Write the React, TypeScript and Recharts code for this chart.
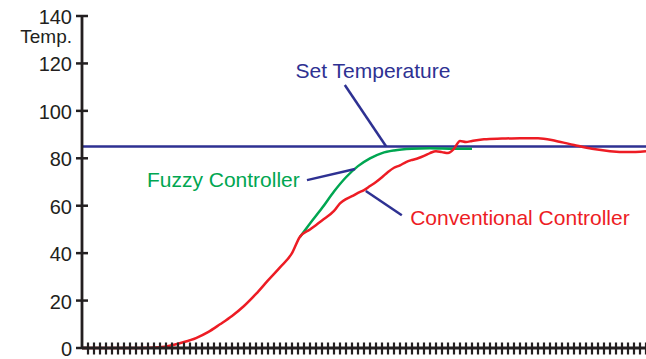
import { LineChart, Line, XAxis, YAxis, ReferenceLine, ReferenceDot } from "recharts"

const FONT = "'Liberation Sans', Arial, Helvetica, sans-serif"
const NAVY = "#2e3192"
const GREEN = "#00a651"
const RED = "#ed1c24"
const AXIS = "#231f20"

// time (arbitrary units, one minor tick each) and temperature
const convTime = [0, 5, 10, 13, 15, 17, 19, 21, 23, 25, 27, 29, 31, 33, 35, 36.3, 38, 40, 42, 43, 44, 45, 46, 47, 48, 49, 50, 51, 52, 53, 54, 55, 56, 57, 58, 59, 60, 61, 62, 63, 64, 65, 67, 70, 73, 76, 79, 82, 85, 88, 91, 94]
const convTemp = [0, 0, 0, 0.3, 1.2, 2.5, 4.2, 6.7, 10, 13.5, 17.7, 22.8, 28.5, 34, 40, 46.8, 50, 53.8, 57.8, 61, 62.8, 64, 65.4, 66.6, 68.3, 70, 72, 74.2, 76, 77, 78.4, 79.3, 80, 81, 82.2, 83, 82.6, 82.2, 84, 87.3, 86.9, 87.3, 88, 88.3, 88.5, 88.5, 87.3, 85.6, 84, 83, 82.6, 83]

const fuzzyTime = [36.3, 38, 40, 42, 44, 46, 48, 50, 52, 55, 58, 62, 65]
const fuzzyTemp = [46.8, 52.5, 59, 66, 72, 76.7, 80, 82.2, 83.3, 84, 84.2, 84, 84]

const setTime = [0, 94]
const setTemp = [85, 85]

const yTicks = [0, 20, 40, 60, 80, 100, 120, 140]
const xTicks = Array.from({ length: 94 }, (_, i) => i + 1)

// annotation labels and their pointer lines
const notes = [
  { text: "Set Temperature", color: NAVY, x: 48.5, y: 113.9, anchor: "middle", from: [43.8, 110.9], to: [50.7, 85] },
  { text: "Fuzzy Controller", color: GREEN, x: 36.3, y: 67.9, anchor: "end", from: [37.5, 70.8], to: [45.5, 75.5] },
  { text: "Conventional Controller", color: RED, x: 54.7, y: 51.9, anchor: "start", from: [47.3, 66.2], to: [53.3, 56] },
]

const toRows = (xs: number[], ys: number[]) => xs.map((t, i) => ({ t, v: ys[i] }))

function YTick(props: any) {
  const { x, y, payload } = props
  return (
    <g>
      <line x1={x - 6} x2={x + 6} y1={y} y2={y} stroke={AXIS} strokeWidth={2.5} />
      <text x={x - 10} y={y + 8} textAnchor="end" fontSize={20} fill={AXIS} fontFamily={FONT}>
        {payload.value}
      </text>
      {payload.value === 140 && (
        <text x={x - 10} y={y + 27} textAnchor="end" fontSize={19} fill={AXIS} fontFamily={FONT}>
          Temp.
        </text>
      )}
    </g>
  )
}

function XTick(props: any) {
  const { x, y } = props
  return <line x1={x} x2={x} y1={y - 5.5} y2={y + 6.5} stroke={AXIS} strokeWidth={2.2} />
}

export default function App() {
  return (
    <div style={{ position: "absolute", left: 0, top: 0, width: 646, height: 359, background: "#fff" }}>
      <LineChart width={646} height={359} margin={{ top: 16, right: 0, bottom: 0, left: 0 }}>
        <XAxis
          dataKey="t"
          type="number"
          domain={[0, 94]}
          ticks={xTicks}
          interval={0}
          tick={<XTick />}
          tickLine={false}
          tickSize={0}
          tickMargin={0}
          height={11}
          axisLine={{ stroke: AXIS, strokeWidth: 2.8 }}
          allowDataOverflow
        />
        <YAxis
          type="number"
          domain={[0, 140]}
          ticks={yTicks}
          interval={0}
          tick={<YTick />}
          tickLine={false}
          tickSize={0}
          tickMargin={0}
          width={82}
          axisLine={{ stroke: AXIS, strokeWidth: 2.8 }}
        />
        <Line data={toRows(setTime, setTemp)} dataKey="v" type="linear" stroke={NAVY} strokeWidth={2.5} dot={false} isAnimationActive={false} />
        <Line data={toRows(fuzzyTime, fuzzyTemp)} dataKey="v" type="monotone" stroke={GREEN} strokeWidth={2.5} dot={false} isAnimationActive={false} />
        <Line data={toRows(convTime, convTemp)} dataKey="v" type="monotone" stroke={RED} strokeWidth={2.5} dot={false} isAnimationActive={false} />
        {notes.map((n) => (
          <ReferenceLine
            key={n.text + "-ptr"}
            segment={[{ x: n.from[0], y: n.from[1] }, { x: n.to[0], y: n.to[1] }]}
            stroke={NAVY}
            strokeWidth={2.5}
          />
        ))}
        {notes.map((n) => (
          <ReferenceDot
            key={n.text}
            x={n.x}
            y={n.y}
            r={0}
            shape={(p: any) => (
              <text x={p.cx} y={p.cy} textAnchor={n.anchor as any} fontSize={21} fill={n.color} fontFamily={FONT}>
                {n.text}
              </text>
            )}
          />
        ))}
      </LineChart>
    </div>
  )
}
